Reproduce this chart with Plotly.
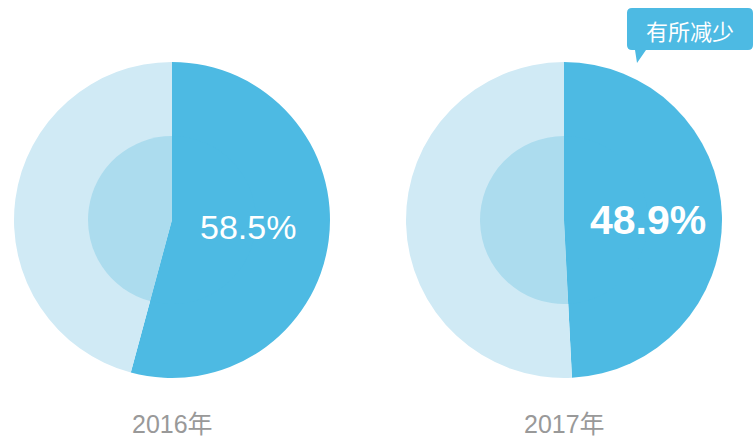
import plotly.graph_objects as go

W, H = 755, 440

years = ["2016年", "2017年"]
share_labels = ["58.5%", "48.9%"]
dark_share = [54.2, 49.2]
light_share = [45.8, 50.8]
note_text = "有所减少"

DARK = "#4dbae3"
LIGHT = "#d0eaf5"
INNER = "#acdcee"


def px_x(x):
    return x / W


def px_y(y):
    return 1 - y / H


centers = [172, 564]
cy = 220
r_out, r_in = 158, 84

fig = go.Figure()
for i, cx in enumerate(centers):
    vals = [dark_share[i], light_share[i]]
    for r, col in [(r_out, LIGHT), (r_in, INNER)]:
        fig.add_trace(go.Pie(
            values=vals, labels=["a", "b"], sort=False, direction="clockwise",
            rotation=0, textinfo="none", hoverinfo="skip",
            marker=dict(colors=[DARK, col], line=dict(width=0)),
            domain=dict(x=[px_x(cx - r), px_x(cx + r)], y=[px_y(cy + r), px_y(cy - r)]),
            showlegend=False,
        ))


def label(x, y, text, size, color, family):
    fig.add_annotation(x=px_x(x), y=px_y(y), xref="paper", yref="paper", text=text,
                       xanchor="center", yanchor="middle", showarrow=False,
                       font=dict(family=family, size=size, color=color))


# percentage labels
label(248, 227, share_labels[0], 34, "white", "Liberation Sans, Arial")
label(648, 220, "<b>" + share_labels[1] + "</b>", 41, "white", "Liberation Sans, Arial")

for cx, yr in zip(centers, years):
    label(cx, 424, yr, 25, "#999999", "Liberation Sans, Noto Sans CJK SC")

# callout bubble
x0, x1, y0, y1, rr = 627, 753, 8, 50, 5
pts = [
    ("M", x0 + rr, y0), ("L", x1 - rr, y0), ("Q", x1, y0, x1, y0 + rr), ("L", x1, y1 - rr),
    ("Q", x1, y1, x1 - rr, y1), ("L", 646, y1), ("L", 637, 63), ("L", 635, y1),
    ("L", x0 + rr, y1), ("Q", x0, y1, x0, y1 - rr), ("L", x0, y0 + rr), ("Q", x0, y0, x0 + rr, y0),
]
path = ""
for p in pts:
    cmd, coords = p[0], p[1:]
    s = " ".join(f"{px_x(coords[j]):.5f},{px_y(coords[j + 1]):.5f}" for j in range(0, len(coords), 2))
    path += f"{cmd}{s} "
fig.add_shape(type="path", path=path + "Z", xref="paper", yref="paper",
              fillcolor=DARK, line=dict(width=0))
label(690, 30, note_text, 22, "white", "Noto Sans CJK SC")

fig.update_layout(width=W, height=H, margin=dict(l=0, r=0, t=0, b=0),
                  paper_bgcolor="white", plot_bgcolor="white")
fig.write_html("out.html", config={"displayModeBar": False},
               post_script="document.body.style.margin='0';")
